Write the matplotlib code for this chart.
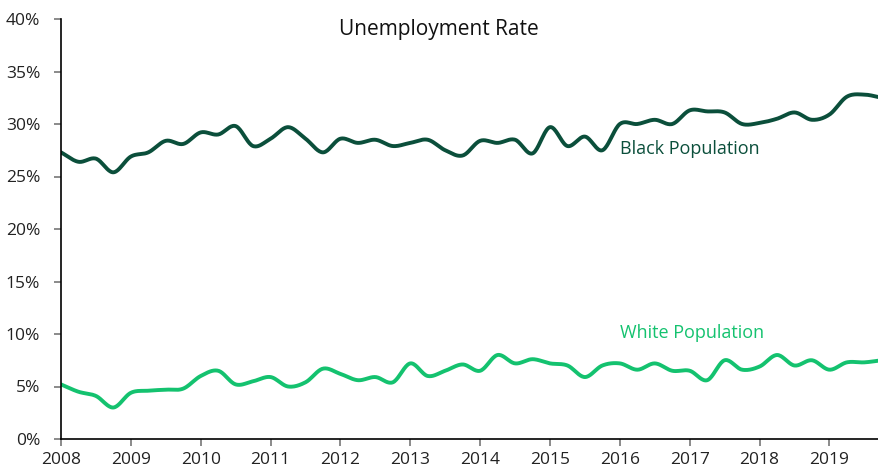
import numpy as np
import matplotlib
matplotlib.use("Agg")
import matplotlib.pyplot as plt
from matplotlib.ticker import FuncFormatter

plt.rcParams['font.family'] = ['Open Sans', 'DejaVu Sans']

# Quarterly dates (decimal years)
dates = [2008.0 + 0.25 * i for i in range(48)]

black_rate = [27.3, 26.4, 26.7, 25.4, 26.9, 27.3, 28.4, 28.1,
              29.2, 29.0, 29.8, 27.9, 28.6, 29.7, 28.6, 27.3,
              28.6, 28.2, 28.5, 27.9, 28.2, 28.5, 27.5, 27.0,
              28.4, 28.2, 28.5, 27.2, 29.7, 27.9, 28.8, 27.5,
              30.0, 30.0, 30.4, 30.0, 31.3, 31.2, 31.1, 30.0,
              30.1, 30.5, 31.1, 30.4, 30.9, 32.6, 32.8, 32.5]

white_rate = [5.2, 4.5, 4.1, 3.0, 4.4, 4.6, 4.7, 4.8,
              6.0, 6.5, 5.2, 5.5, 5.9, 5.0, 5.4, 6.7,
              6.2, 5.6, 5.9, 5.4, 7.2, 6.0, 6.5, 7.1,
              6.5, 8.0, 7.2, 7.6, 7.2, 7.0, 5.9, 7.0,
              7.2, 6.6, 7.2, 6.5, 6.5, 5.6, 7.5, 6.6,
              6.9, 8.0, 7.0, 7.5, 6.6, 7.3, 7.3, 7.5]

year_ticks = list(range(2008, 2020))
pct_ticks = [0, 5, 10, 15, 20, 25, 30, 35, 40]

title = "Unemployment Rate"
black_label = "Black Population"
white_label = "White Population"

BLACK_COLOR = "#0b4f3b"
WHITE_COLOR = "#14c26f"


def catmull_rom(x, y, n=20):
    x = np.asarray(x, float)
    y = np.asarray(y, float)
    px = np.concatenate([[2 * x[0] - x[1]], x, [2 * x[-1] - x[-2]]])
    py = np.concatenate([[2 * y[0] - y[1]], y, [2 * y[-1] - y[-2]]])
    xs, ys = [], []
    t = np.linspace(0, 1, n, endpoint=False)
    for i in range(1, len(px) - 2):
        for arr, out in ((px, xs), (py, ys)):
            p0, p1, p2, p3 = arr[i - 1], arr[i], arr[i + 1], arr[i + 2]
            out.append(0.5 * ((2 * p1) + (-p0 + p2) * t
                              + (2 * p0 - 5 * p1 + 4 * p2 - p3) * t ** 2
                              + (-p0 + 3 * p1 - 3 * p2 + p3) * t ** 3))
    xs.append([x[-1]])
    ys.append([y[-1]])
    return np.concatenate(xs), np.concatenate(ys)


fig = plt.figure(figsize=(8.79, 4.70), dpi=100)
ax = fig.add_axes([61 / 879, 31 / 470, 1 - 61 / 879, (439 - 19) / 470])

bx, by = catmull_rom(dates, black_rate)
wx, wy = catmull_rom(dates, white_rate)
ax.plot(bx, by, color=BLACK_COLOR, lw=2.8, solid_capstyle='round')
ax.plot(wx, wy, color=WHITE_COLOR, lw=2.8, solid_capstyle='round')

ax.set_xlim(2008, 2019.71)
ax.set_ylim(0, 40)
ax.set_xticks(year_ticks)
ax.set_xticklabels([str(y) for y in year_ticks])
ax.set_yticks(pct_ticks)
ax.yaxis.set_major_formatter(FuncFormatter(lambda v, p: f"{int(v)}%"))

for s in ['top', 'right']:
    ax.spines[s].set_visible(False)
for s in ['left', 'bottom']:
    ax.spines[s].set_color('black')
    ax.spines[s].set_linewidth(1.2)
ax.tick_params(axis='both', colors='#777777', labelcolor='#222222',
               labelsize=12.5, length=5, width=1.2)
ax.tick_params(axis='x', pad=4)
ax.tick_params(axis='y', pad=10)

fig.text(439 / 879, 1 - 29 / 470, title, ha='center', va='center',
         fontsize=15, color='#111111')
ax.text(2016.0, 27.6, black_label, color=BLACK_COLOR, fontsize=13,
        ha='left', va='center')
ax.text(2016.0, 10.1, white_label, color=WHITE_COLOR, fontsize=13,
        ha='left', va='center')

fig.savefig("out.png", dpi=100)
